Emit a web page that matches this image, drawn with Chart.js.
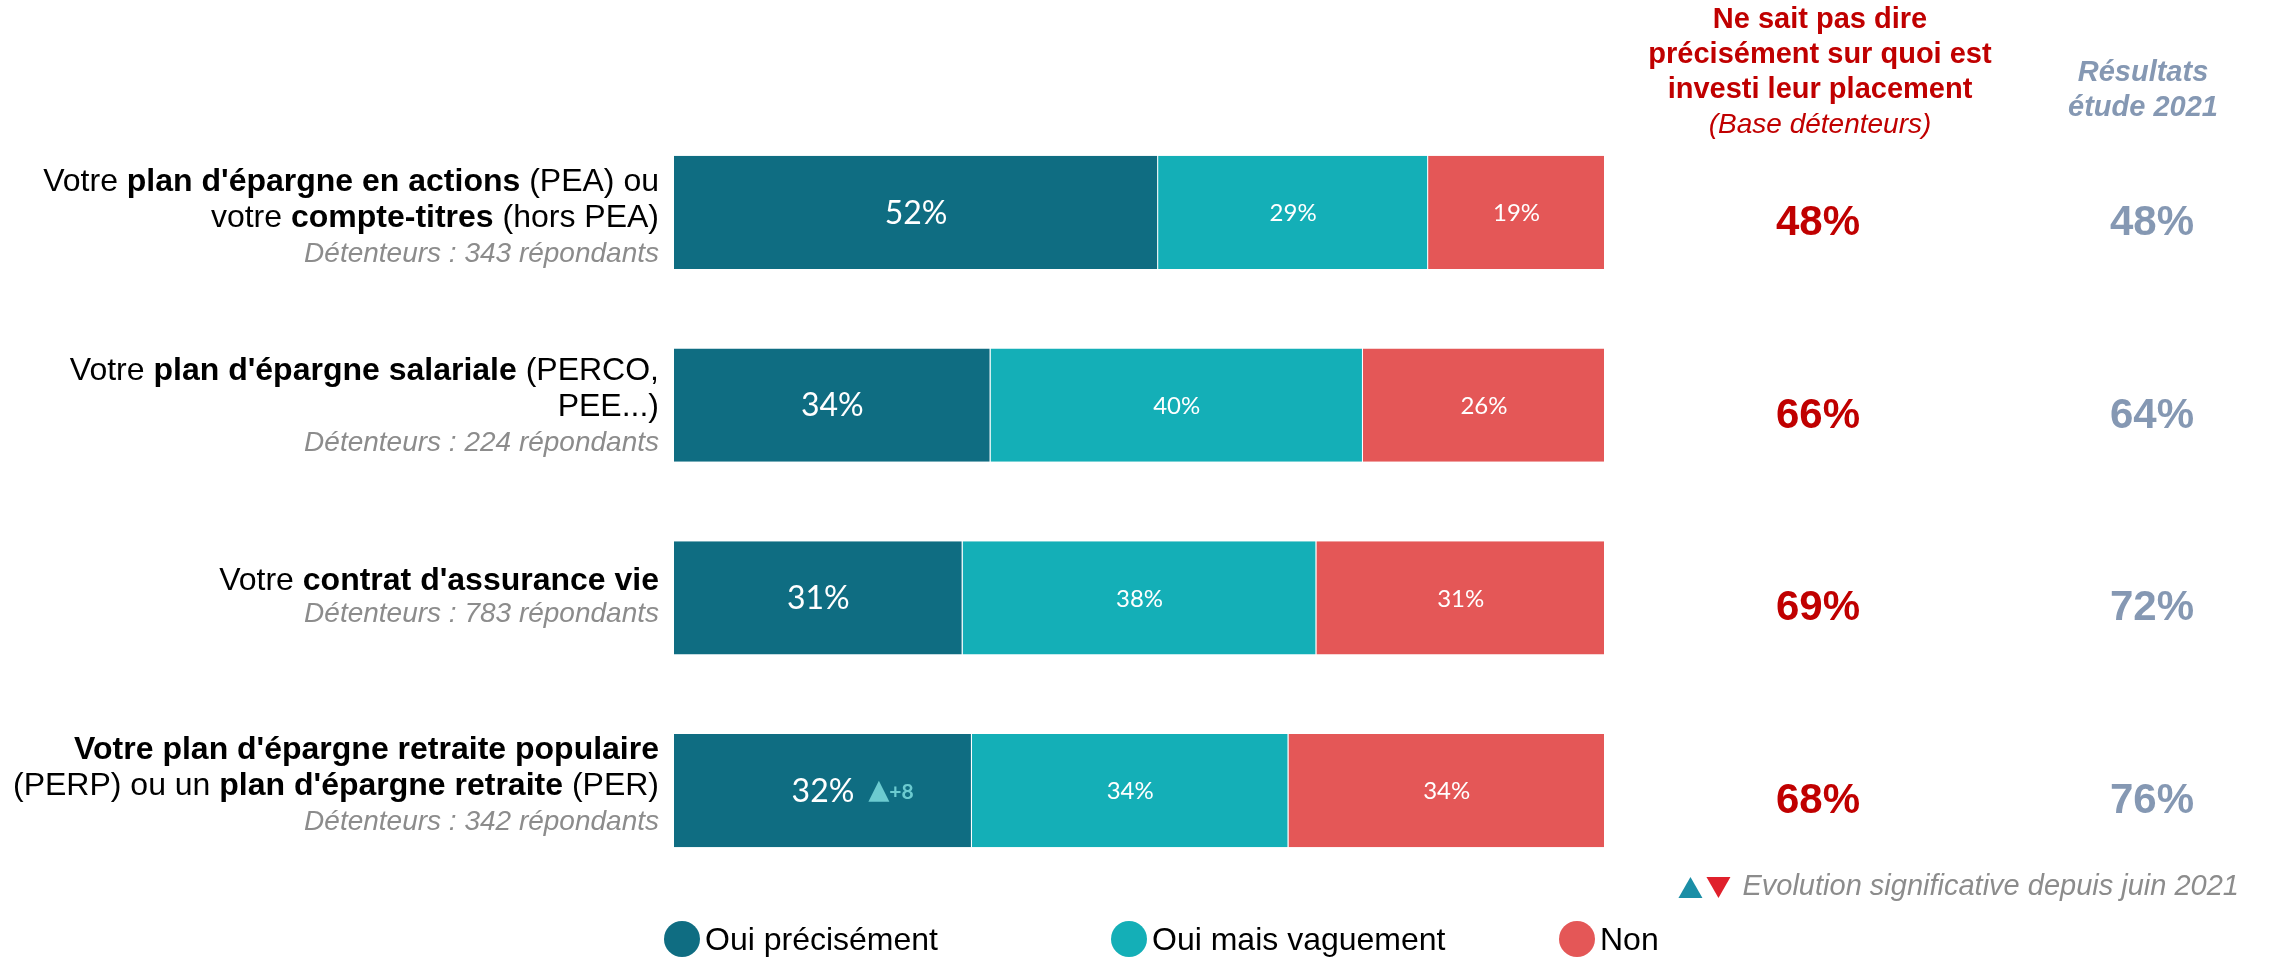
<!DOCTYPE html>
<html lang="fr">
<head>
<meta charset="utf-8">
<title>Connaissance des placements</title>
<script src="https://cdn.jsdelivr.net/npm/chart.js@4/dist/chart.umd.min.js"></script>
<style>
  html, body { margin: 0; padding: 0; background: #fff; }
  #wrap { position: relative; width: 2269px; height: 957px; }
</style>
</head>
<body>
<div id="wrap"><canvas id="chart" width="2269" height="957"></canvas></div>
<script>
// ─── Data ────────────────────────────────────────────────
const categories = ['PEA / compte-titres', 'Épargne salariale', 'Assurance vie', 'PERP / PER'];

// each line is a list of [text, bold] runs
const questionLines = [
  [[['Votre ', false], ["plan d'épargne en actions", true], [' (PEA) ou', false]],
   [['votre ', false], ['compte-titres', true], [' (hors PEA)', false]]],
  [[['Votre ', false], ["plan d'épargne salariale", true], [' (PERCO,', false]],
   [['PEE...)', false]]],
  [[['Votre ', false], ["contrat d'assurance vie", true]]],
  [[["Votre plan d'épargne retraite populaire", true]],
   [['(PERP) ou un ', false], ["plan d'épargne retraite", true], [' (PER)', false]]]
];
const respondents = [343, 224, 783, 342];

const seriesNames  = ['Oui précisément', 'Oui mais vaguement', 'Non'];
const ouiPrecis    = [52, 34, 31, 32];
const ouiVague     = [29, 40, 38, 34];
const nonVals      = [19, 26, 31, 34];
const evolution    = [null, null, null, 8];   // vs juin 2021

const neSaitPas    = [48, 66, 69, 68];
const etude2021    = [48, 64, 72, 76];

const COLORS = ['#0f6d82', '#14afb7', '#e45757'];
const ARIAL = '"Liberation Sans", Arial, sans-serif';
const CALIBRI = 'Lato, "Open Sans", sans-serif';

// ─── Helpers ─────────────────────────────────────────────
function drawRuns(ctx, runs, rightX, y, size) {
  let total = 0;
  runs.forEach(([t, b]) => {
    ctx.font = `${b ? 'bold ' : ''}${size}px ${ARIAL}`;
    total += ctx.measureText(t).width;
  });
  let x = rightX - total;
  ctx.textAlign = 'left';
  runs.forEach(([t, b]) => {
    ctx.font = `${b ? 'bold ' : ''}${size}px ${ARIAL}`;
    ctx.fillText(t, x, y);
    x += ctx.measureText(t).width;
  });
}

function triangle(ctx, x, y, w, h, up) {
  ctx.beginPath();
  if (up) { ctx.moveTo(x, y + h); ctx.lineTo(x + w / 2, y); ctx.lineTo(x + w, y + h); }
  else    { ctx.moveTo(x, y); ctx.lineTo(x + w, y); ctx.lineTo(x + w / 2, y + h); }
  ctx.closePath();
  ctx.fill();
}

// ─── Text overlay plugin ─────────────────────────────────
const overlay = {
  id: 'overlay',
  afterDatasetsDraw(chart) {
    const ctx = chart.ctx;
    ctx.save();
    ctx.textBaseline = 'middle';
    chart.data.datasets.forEach((ds, di) => {
      chart.getDatasetMeta(di).data.forEach((bar, i) => {
        const p = bar.getProps(['x', 'y', 'base'], true);
        const cx = (p.x + p.base) / 2;
        ctx.fillStyle = '#fff';
        ctx.font = di === 0 ? `32px ${CALIBRI}` : `24px ${CALIBRI}`;
        const txt = ds.data[i] + '%';
        ctx.textAlign = 'center';
        ctx.fillText(txt, cx, p.y + 1);
        if (di === 0 && evolution[i] != null) {
          const w = ctx.measureText(txt).width;
          const x = cx + w / 2 + 14;
          ctx.fillStyle = '#6ccbd0';
          triangle(ctx, x, p.y - 10, 21, 21, true);
          ctx.font = `bold 21px ${CALIBRI}`;
          ctx.textAlign = 'left';
          ctx.fillText('+' + evolution[i], x + 21, p.y + 2);
        }
      });
    });
    ctx.restore();
  },
  afterDraw(chart) {
    const ctx = chart.ctx;
    const ys = chart.scales.y;
    const labelShift = [6, 2, 0, -4];
    ctx.save();
    ctx.textBaseline = 'middle';

    // question labels, right aligned left of the bars
    categories.forEach((c, i) => {
      const lines = questionLines[i];
      const n = lines.length + 1;
      const cy = ys.getPixelForValue(i) + labelShift[i];
      const step = n === 2 ? 33 : 36;
      let y = cy - (n - 1) * step / 2;
      ctx.fillStyle = '#000';
      lines.forEach(runs => { drawRuns(ctx, runs, 659, y, 32); y += step; });
      ctx.fillStyle = '#8c8c8c';
      ctx.font = `italic 28px ${ARIAL}`;
      ctx.textAlign = 'right';
      ctx.fillText(`Détenteurs : ${respondents[i]} répondants`, 659, y);
    });

    // right-hand columns
    ctx.textAlign = 'center';
    categories.forEach((c, i) => {
      const y = ys.getPixelForValue(i) + 11;
      ctx.font = `bold 42px ${ARIAL}`;
      ctx.fillStyle = '#c00000';
      ctx.fillText(neSaitPas[i] + '%', 1818, y);
      ctx.fillStyle = '#8598b3';
      ctx.fillText(etude2021[i] + '%', 2152, y);
    });

    // column headers
    ctx.fillStyle = '#c00000';
    ctx.font = `bold 29px ${ARIAL}`;
    ['Ne sait pas dire', 'précisément sur quoi est', 'investi leur placement']
      .forEach((t, k) => ctx.fillText(t, 1820, 20 + k * 35));
    ctx.font = `italic 28px ${ARIAL}`;
    ctx.fillText('(Base détenteurs)', 1820, 125);
    ctx.fillStyle = '#8598b3';
    ctx.font = `bold italic 29px ${ARIAL}`;
    ctx.fillText('Résultats', 2143, 73);
    ctx.fillText('étude 2021', 2143, 108);

    // evolution footnote
    const note = 'Evolution significative depuis juin 2021';
    ctx.font = `italic 29px ${ARIAL}`;
    ctx.fillStyle = '#8c8c8c';
    ctx.textAlign = 'right';
    ctx.fillText(note, 2239, 887);
    const fx = 2239 - ctx.measureText(note).width - 12;
    ctx.fillStyle = '#e0202b';
    triangle(ctx, fx - 24, 877, 24, 21, false);
    ctx.fillStyle = '#1b8ea6';
    triangle(ctx, fx - 52, 877, 24, 21, true);

    // legend
    const legX = [682, 1129, 1577];
    ctx.textAlign = 'left';
    ctx.font = `32px ${ARIAL}`;
    seriesNames.forEach((name, k) => {
      ctx.fillStyle = COLORS[k];
      ctx.beginPath();
      ctx.arc(legX[k], 939, 18, 0, Math.PI * 2);
      ctx.fill();
      ctx.fillStyle = '#000';
      ctx.fillText(name, legX[k] + 23, 941);
    });
    ctx.restore();
  }
};

// ─── Chart ───────────────────────────────────────────────
new Chart(document.getElementById('chart'), {
  type: 'bar',
  data: {
    labels: categories,
    datasets: [ouiPrecis, ouiVague, nonVals].map((d, k) => ({
      label: seriesNames[k],
      data: d,
      backgroundColor: COLORS[k],
      borderColor: 'rgba(255,255,255,0.35)',
      borderWidth: { right: 1 },
      borderSkipped: false,
      barPercentage: 0.587,
      categoryPercentage: 1
    }))
  },
  options: {
    indexAxis: 'y',
    responsive: false,
    animation: false,
    devicePixelRatio: 1,
    layout: { padding: { left: 674, right: 664, top: 116, bottom: 70 } },
    plugins: { legend: { display: false }, tooltip: { enabled: false } },
    scales: {
      x: { stacked: true, min: 0, max: 100, display: false },
      y: { stacked: true, display: false }
    }
  },
  plugins: [overlay]
});
</script>
</body>
</html>
